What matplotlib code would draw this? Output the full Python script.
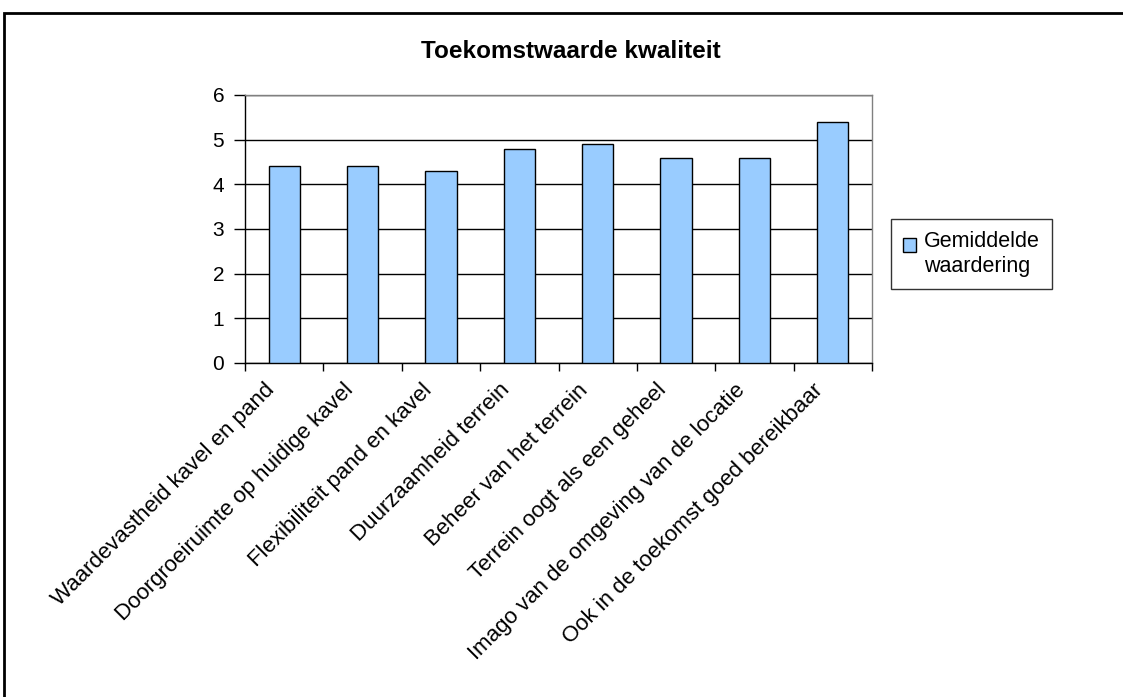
import matplotlib
matplotlib.use("Agg")
import matplotlib.pyplot as plt
from matplotlib.patches import Rectangle
from matplotlib.legend_handler import HandlerPatch, update_from_first_child
from matplotlib.transforms import ScaledTranslation

plt.rcParams['font.family'] = ['Liberation Sans', 'DejaVu Sans']

categories = [
    "Waardevastheid kavel en pand",
    "Doorgroeiruimte op huidige kavel",
    "Flexibiliteit pand en kavel",
    "Duurzaamheid terrein",
    "Beheer van het terrein",
    "Terrein oogt als een geheel",
    "Imago van de omgeving van de locatie",
    "Ook in de toekomst goed bereikbaar",
]
scores = [4.4, 4.4, 4.3, 4.8, 4.9, 4.6, 4.6, 5.4]
series_label = "Gemiddelde\nwaardering"
title = "Toekomstwaarde kwaliteit"
y_ticks = [0, 1, 2, 3, 4, 5, 6]

W, H = 1123, 697
fig = plt.figure(figsize=(W / 100, H / 100), dpi=100)
fig.patch.set_facecolor("white")

# outer chart frame (runs off the right and bottom edge)
fig.patches.append(Rectangle((4 / W, -0.05), 1.2, 1 - 13 / H + 0.05,
                             transform=fig.transFigure, fill=False,
                             edgecolor="black", linewidth=2.0))

ax = fig.add_axes([245 / W, 1 - 363 / H, (872 - 245) / W, (363 - 95) / H])

x = list(range(len(categories)))
bars = ax.bar(x, scores, width=0.4, color="#99CCFF", edgecolor="black",
              linewidth=1.0, zorder=3, label=series_label)

ax.set_xlim(-0.5, len(categories) - 0.5)
ax.set_ylim(0, 6)
ax.set_yticks(y_ticks)
ax.yaxis.grid(True, color="black", linewidth=1.0, zorder=0)
ax.set_axisbelow(True)

ax.tick_params(axis="y", direction="out", length=8, width=1, labelsize=15, pad=7)
ax.set_xticks(x)
ax.set_xticklabels(categories, rotation=45, ha="right", va="top",
                   rotation_mode="anchor", fontsize=16)
ax.tick_params(axis="x", which="major", length=0, pad=12)
ax.set_xticks([i - 0.5 for i in range(len(categories) + 1)], minor=True)
ax.tick_params(axis="x", which="minor", direction="out", length=6, width=1)

# nudge the slanted category labels a little to the left of each slot centre
shift = ScaledTranslation(-20 / 100, 0, fig.dpi_scale_trans)
for lbl in ax.get_xticklabels():
    lbl.set_transform(lbl.get_transform() + shift)

for side in ("top", "right"):
    ax.spines[side].set_color("#808080")
    ax.spines[side].set_linewidth(1.0)
for side in ("left", "bottom"):
    ax.spines[side].set_color("black")
    ax.spines[side].set_linewidth(1.0)

fig.text(571 / W, 1 - 51 / H, title, ha="center", va="center",
         fontsize=17.5, fontweight="bold")


def first_line_square(legend, orig_handle, xdescent, ydescent, width, height, fontsize):
    # keep the swatch level with the first line of the two-line label
    return Rectangle((-xdescent, -ydescent + fontsize * 0.45), width, height)


leg = fig.legend(handles=[bars], labels=[series_label],
                 loc="center left", bbox_to_anchor=(891 / W, 1 - 254 / H),
                 fontsize=15.5, frameon=True, fancybox=False, edgecolor="black",
                 borderpad=0.55, handlelength=0.6, handleheight=0.6,
                 handletextpad=0.4, borderaxespad=0,
                 handler_map={type(bars): HandlerPatch(
                     patch_func=first_line_square,
                     update_func=update_from_first_child)})
leg.get_frame().set_linewidth(1.0)
for t in leg.get_texts():
    t.set_linespacing(1.3)

fig.savefig("out.png", dpi=100, facecolor="white")
